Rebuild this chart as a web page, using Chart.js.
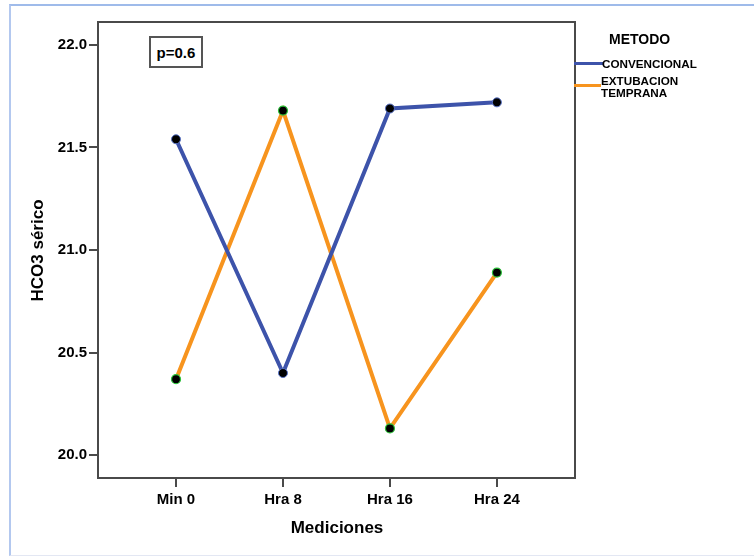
<!DOCTYPE html>
<html>
<head>
<meta charset="utf-8">
<script src="https://cdn.jsdelivr.net/npm/chart.js@4/dist/chart.umd.min.js"></script>
<style>
  html, body { margin: 0; padding: 0; background: #fff; }
  #wrap { position: relative; width: 754px; height: 557px; overflow: hidden; font-family: "Liberation Sans", Arial, sans-serif; }
  #frame { position: absolute; left: 9px; top: 4px; width: 745px; height: 552px; box-sizing: border-box;
           border-top: 2px solid #9fbbea; border-left: 2px solid #b3c8ef; border-bottom: 1px solid #e3e7f3; }
  canvas { position: absolute; left: 0; top: 0; }
  .txt { position: absolute; font-weight: bold; color: #000; white-space: nowrap; line-height: 1; }
  #pbox { position: absolute; left: 149px; top: 36px; width: 54px; height: 32px; box-sizing: border-box;
          border: 2px solid #555; display: flex; align-items: center; justify-content: center;
          font-weight: bold; font-size: 15px; color: #000; background: #fff; }
  .lg { position: absolute; height: 3px; }
</style>
</head>
<body>
<div id="wrap">
  <div id="frame"></div>
  <canvas id="c" width="754" height="557"></canvas>
  <div id="pbox">p=0.6</div>
  <div class="txt" id="legTitle" style="left:609px; top:32px; font-size:14px;"></div>
  <div class="lg" style="left:574px; top:62px; width:29px; background:#3d53aa;"></div>
  <div class="txt" id="leg0" style="left:602px; top:58px; font-size:11.7px;"></div>
  <div class="lg" style="left:574px; top:84px; width:27px; background:#f7941e;"></div>
  <div class="txt" id="leg1" style="left:601px; top:74.5px; font-size:11.7px; line-height:12.5px;"></div>
</div>
<script>
// Measurement points and series means
const categories = ['Min 0', 'Hra 8', 'Hra 16', 'Hra 24'];
const seriesNames = ['CONVENCIONAL', 'EXTUBACION\nTEMPRANA'];
const convencional = [21.54, 20.40, 21.69, 21.72];
const extubacion = [20.37, 21.68, 20.13, 20.89];
const yTicks = [20.0, 20.5, 21.0, 21.5, 22.0];
const legendTitle = 'METODO';
const xTitle = 'Mediciones';
const yTitle = 'HCO3 sérico';

document.getElementById('legTitle').textContent = legendTitle;
document.getElementById('leg0').textContent = seriesNames[0];
document.getElementById('leg1').innerHTML = seriesNames[1].split('\n').join('<br>');

const toPoints = arr => arr.map((v, i) => ({ x: i, y: v }));

// Frame around the plotting area
const boxPlugin = {
  id: 'plotBox',
  afterDraw(chart) {
    const { ctx, chartArea: a } = chart;
    ctx.save();
    ctx.strokeStyle = '#4a4a4a';
    ctx.lineWidth = 2;
    ctx.strokeRect(a.left - 1, a.top - 1, a.right - a.left + 1, a.bottom - a.top + 1);
    ctx.restore();
  }
};

const tickFont = { family: '"Liberation Sans", Arial, sans-serif', size: 15, weight: 'bold' };
const titleFont = { family: '"Liberation Sans", Arial, sans-serif', size: 17, weight: 'bold' };

new Chart(document.getElementById('c'), {
  type: 'line',
  data: {
    datasets: [
      {
        label: seriesNames[0],
        data: toPoints(convencional),
        borderColor: '#3d53aa',
        borderWidth: 4,
        pointRadius: 4.5,
        pointBackgroundColor: '#000',
        pointBorderColor: '#5a74c8',
        pointBorderWidth: 1,
        tension: 0
      },
      {
        label: seriesNames[1],
        data: toPoints(extubacion),
        borderColor: '#f7941e',
        borderWidth: 4,
        pointRadius: 4.5,
        pointBackgroundColor: '#000',
        pointBorderColor: '#2cc23a',
        pointBorderWidth: 1.2,
        tension: 0
      }
    ]
  },
  options: {
    responsive: false,
    animation: false,
    layout: { padding: { top: 23, right: 179, left: 0, bottom: 0 } },
    plugins: { legend: { display: false }, tooltip: { enabled: false } },
    scales: {
      x: {
        type: 'linear',
        min: -0.72,
        max: 3.73,
        afterFit(s) { s.height = 79; },
        afterBuildTicks(s) { s.ticks = categories.map((_, i) => ({ value: i })); },
        grid: { display: true, drawOnChartArea: false, drawTicks: true, tickLength: 9, color: '#4a4a4a', lineWidth: 2 },
        border: { display: false },
        ticks: { font: tickFont, color: '#000', padding: 4, maxRotation: 0, callback: v => categories[v] },
        title: { display: true, text: xTitle, font: titleFont, color: '#000', padding: { top: 0, bottom: 18 } }
      },
      y: {
        min: 19.888,
        max: 22.107,
        afterFit(s) { s.width = 99; },
        afterBuildTicks(s) { s.ticks = yTicks.map(v => ({ value: v })); },
        grid: { display: true, drawOnChartArea: false, drawTicks: true, tickLength: 10, color: '#4a4a4a', lineWidth: 2 },
        border: { display: false },
        ticks: { font: tickFont, color: '#000', padding: 2, callback: v => v.toFixed(1) },
        title: { display: true, text: yTitle, font: titleFont, color: '#000', padding: { top: 28, bottom: 0 } }
      }
    }
  },
  plugins: [boxPlugin]
});
</script>
</body>
</html>
